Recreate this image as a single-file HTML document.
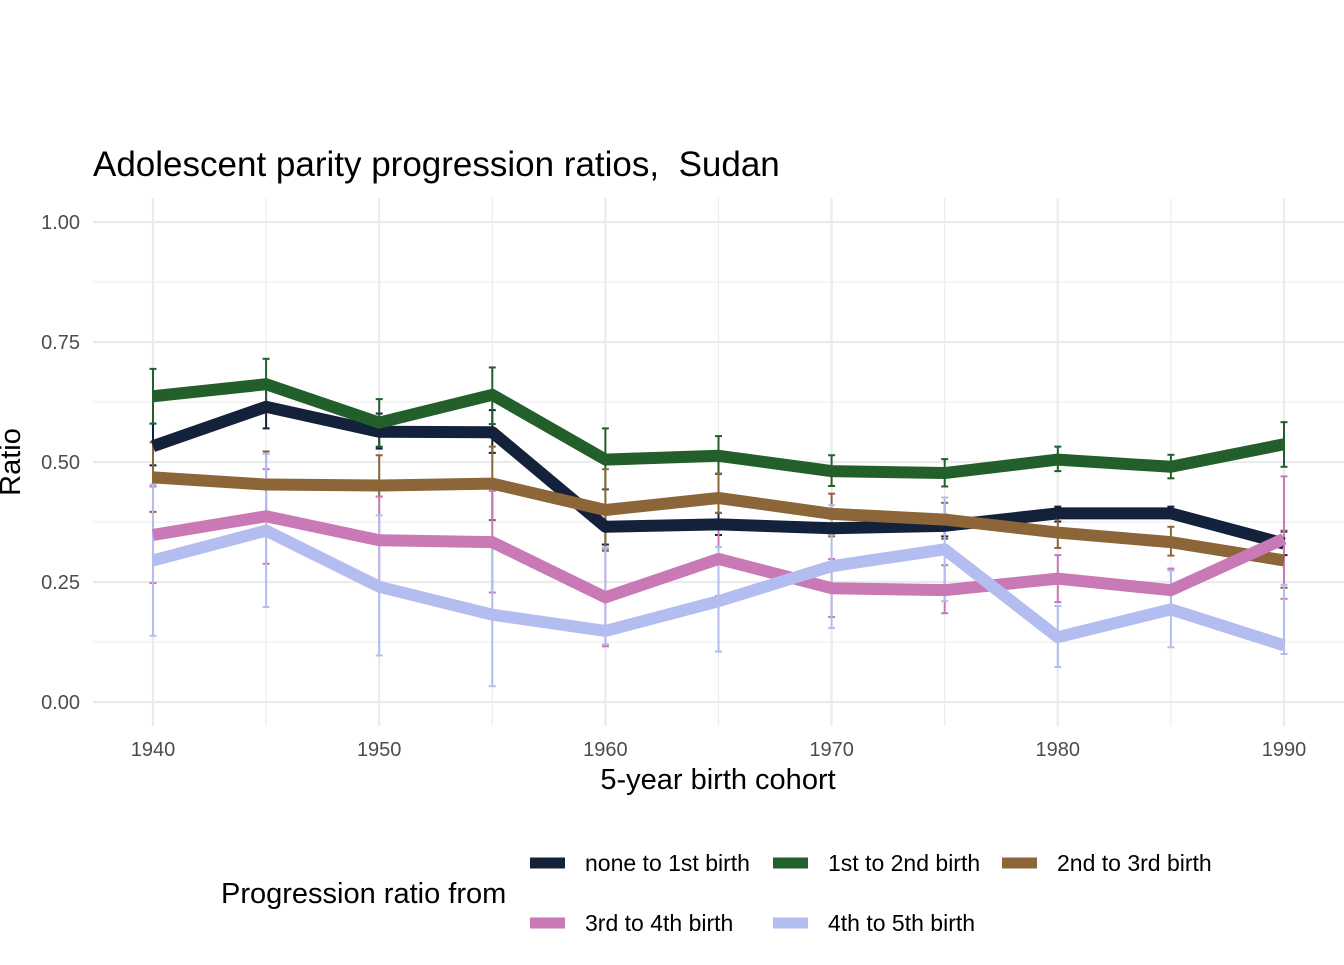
<!DOCTYPE html>
<html><head><meta charset="utf-8"><style>
body{margin:0;background:#fff;}
svg text{font-family:"Liberation Sans",Arial,sans-serif;white-space:pre;}
</style></head><body>
<svg id="c" width="1344" height="960">
<text x="93" y="176" font-size="35" fill="#000" xml:space="preserve">Adolescent parity progression ratios,  Sudan</text>
<g id="grid"></g>
<g id="ticks"></g>
<g id="errs"></g>
<g id="lines"></g>
<text x="718" y="789" font-size="29" text-anchor="middle" fill="#000">5-year birth cohort</text>
<text transform="translate(20,462) rotate(-90)" font-size="29" text-anchor="middle" fill="#000">Ratio</text>
<text x="221" y="903" font-size="29" fill="#000">Progression ratio from</text>
<g id="legend"></g>
</svg>
<script>
const years=[1940,1945,1950,1955,1960,1965,1970,1975,1980,1985,1990];
const seriesNames=["none to 1st birth","1st to 2nd birth","2nd to 3rd birth","3rd to 4th birth","4th to 5th birth"];
const colors=["#14213a","#235f2b","#8c6538","#c879b6","#b3bdef"];
const s0=[0.533,0.615,0.563,0.562,0.365,0.370,0.362,0.367,0.393,0.393,0.330];
const s0lo=[0.493,0.570,0.528,0.519,0.328,0.348,0.351,0.345,0.376,0.386,0.306];
const s0hi=[0.580,0.656,0.601,0.608,0.402,0.394,0.382,0.390,0.407,0.407,0.355];
const s1=[0.637,0.662,0.582,0.640,0.505,0.513,0.481,0.477,0.505,0.490,0.537];
const s1lo=[0.580,0.607,0.532,0.579,0.443,0.475,0.450,0.449,0.481,0.466,0.490];
const s1hi=[0.694,0.715,0.631,0.697,0.570,0.554,0.514,0.506,0.532,0.515,0.583];
const s2=[0.468,0.453,0.451,0.455,0.400,0.425,0.392,0.380,0.353,0.333,0.295];
const s2lo=[0.396,0.385,0.428,0.379,0.315,0.394,0.345,0.340,0.321,0.305,0.238];
const s2hi=[0.541,0.522,0.514,0.532,0.485,0.476,0.434,0.415,0.386,0.365,0.357];
const s3=[0.348,0.387,0.337,0.333,0.218,0.298,0.237,0.233,0.257,0.233,0.340];
const s3lo=[0.248,0.288,0.249,0.228,0.116,0.221,0.177,0.185,0.208,0.192,0.215];
const s3hi=[0.449,0.485,0.428,0.440,0.319,0.371,0.298,0.285,0.306,0.278,0.470];
const s4=[0.295,0.357,0.240,0.182,0.148,0.210,0.283,0.318,0.135,0.193,0.118];
const s4lo=[0.138,0.198,0.097,0.033,0.120,0.105,0.154,0.210,0.073,0.114,0.100];
const s4hi=[0.453,0.517,0.389,0.333,0.322,0.323,0.410,0.426,0.200,0.274,0.244];
const xTicks=[1940,1950,1960,1970,1980,1990];
const yTicks=[0,0.25,0.5,0.75,1.0];
const yTickLabels=["0.00","0.25","0.50","0.75","1.00"];
const vals=[s0,s1,s2,s3,s4],los=[s0lo,s1lo,s2lo,s3lo,s4lo],his=[s0hi,s1hi,s2hi,s3hi,s4hi];
const X=v=>153+(v-1940)*(1284-153)/50;
const Y=v=>702-v*480;
const NS="http://www.w3.org/2000/svg";
function mk(p,t,a){const e=document.createElementNS(NS,t);for(const k in a)e.setAttribute(k,a[k]);p.appendChild(e);return e;}
const grid=document.getElementById('grid'),ticks=document.getElementById('ticks');
for(let v=-0.0;v<=1.01;v+=0.125){const major=Math.abs(v*4-Math.round(v*4))<1e-6;
 const l=mk(grid,'line',{x1:93,x2:1344,y1:Y(v),y2:Y(v),stroke:'#ebebeb','stroke-width':major?2.2:1.1});
 
 }
for(let yr=1940;yr<=1995;yr+=5){const major=yr%10===0;
 const l=mk(grid,'line',{x1:X(yr),x2:X(yr),y1:198,y2:726,stroke:'#ebebeb','stroke-width':major?2.2:1.1});
 
 }
yTicks.forEach((v,i)=>{const t=mk(ticks,'text',{x:80,y:Y(v)+7,'font-size':20,'text-anchor':'end',fill:'#4d4d4d'});t.textContent=yTickLabels[i];
 
 });
xTicks.forEach(v=>{const t=mk(ticks,'text',{x:X(v),y:756,'font-size':20,'text-anchor':'middle',fill:'#4d4d4d'});t.textContent=v;
 
 });
const errs=document.getElementById('errs'),lines=document.getElementById('lines');
vals.forEach((s,k)=>{
 years.forEach((yr,i)=>{const g=mk(errs,'g',{stroke:colors[k],'stroke-width':2});
  
  
  const x=X(yr);mk(g,'line',{x1:x,x2:x,y1:Y(his[k][i]),y2:Y(los[k][i])});
  mk(g,'line',{x1:x-3.5,x2:x+3.5,y1:Y(his[k][i]),y2:Y(his[k][i])});
  mk(g,'line',{x1:x-3.5,x2:x+3.5,y1:Y(los[k][i]),y2:Y(los[k][i])});});
});
vals.forEach((s,k)=>{
 const p=mk(lines,'polyline',{points:years.map((yr,i)=>X(yr)+','+Y(s[i])).join(' '),fill:'none',stroke:colors[k],'stroke-width':12,'stroke-linejoin':'round'});
 
 
});
const leg=document.getElementById('legend');
const lx=[530,773,1002,530,773],ly=[863,863,863,923,923];
seriesNames.forEach((n,k)=>{const g=mk(leg,'g',{});
 
 
 mk(g,'line',{x1:lx[k],x2:lx[k]+35,y1:ly[k],y2:ly[k],stroke:colors[k],'stroke-width':11});
 const t=mk(g,'text',{x:lx[k]+55,y:ly[k]+8,'font-size':23,fill:'#000'});t.textContent=n;});
</script>
</body></html>
